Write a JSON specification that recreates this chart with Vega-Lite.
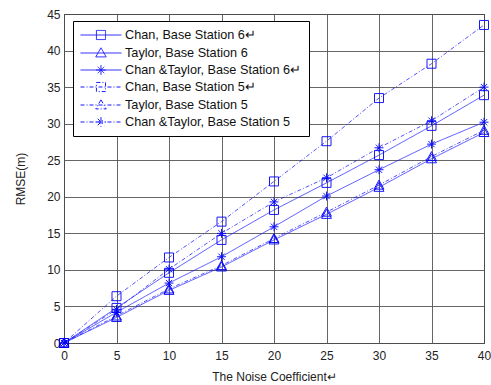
{
  "$schema": "https://vega.github.io/schema/vega-lite/v6.json",
  "width": 420,
  "height": 329,
  "padding": {"left": 14, "top": 8, "right": 8, "bottom": 4},
  "background": "white",
  "config": {
    "font": "Liberation Sans",
    "view": {"stroke": "#000000", "strokeWidth": 1},
    "axis": {"domain": false, "ticks": false, "grid": true, "gridColor": "#555555", "gridWidth": 1, "gridOpacity": 0.9, "labelFont": "Liberation Sans", "labelFontSize": 12, "labelColor": "#222222", "titleFont": "Liberation Sans", "titleFontSize": 12, "titleFontWeight": "normal", "titleColor": "#222222"},
    "legend": {
      "title": null,
      "orient": "none",
      "legendX": 9,
      "legendY": 7,
      "padding": 7,
      "fillColor": "white",
      "strokeColor": "#000000",
      "symbolSize": 169,
      "symbolOffset": 0,
      "symbolStrokeWidth": 1,
      "symbolStrokeColor": "#0000ff",
      "symbolOpacity": 0.9,
      "labelOffset": 31,
      "labelFontSize": 12.7,
      "labelColor": "#111111",
      "labelLimit": 400,
      "rowPadding": 3
    }
  },
  "resolve": {"scale": {"shape": "independent", "strokeDash": "independent"}},
  "data": {"values": [
    {"series": "Chan, Base Station 6↵", "x": 0, "y": 0},
    {"series": "Chan, Base Station 6↵", "x": 5, "y": 4.8},
    {"series": "Chan, Base Station 6↵", "x": 10, "y": 9.6},
    {"series": "Chan, Base Station 6↵", "x": 15, "y": 14.1},
    {"series": "Chan, Base Station 6↵", "x": 20, "y": 18.2},
    {"series": "Chan, Base Station 6↵", "x": 25, "y": 21.9},
    {"series": "Chan, Base Station 6↵", "x": 30, "y": 25.7},
    {"series": "Chan, Base Station 6↵", "x": 35, "y": 29.7},
    {"series": "Chan, Base Station 6↵", "x": 40, "y": 33.9},
    {"series": "Taylor, Base Station 6", "x": 0, "y": 0},
    {"series": "Taylor, Base Station 6", "x": 5, "y": 3.5},
    {"series": "Taylor, Base Station 6", "x": 10, "y": 7.2},
    {"series": "Taylor, Base Station 6", "x": 15, "y": 10.4},
    {"series": "Taylor, Base Station 6", "x": 20, "y": 14.1},
    {"series": "Taylor, Base Station 6", "x": 25, "y": 17.6},
    {"series": "Taylor, Base Station 6", "x": 30, "y": 21.3},
    {"series": "Taylor, Base Station 6", "x": 35, "y": 25.2},
    {"series": "Taylor, Base Station 6", "x": 40, "y": 28.8},
    {"series": "Chan &Taylor, Base Station 6↵", "x": 0, "y": 0},
    {"series": "Chan &Taylor, Base Station 6↵", "x": 5, "y": 4.2},
    {"series": "Chan &Taylor, Base Station 6↵", "x": 10, "y": 8.2},
    {"series": "Chan &Taylor, Base Station 6↵", "x": 15, "y": 11.8},
    {"series": "Chan &Taylor, Base Station 6↵", "x": 20, "y": 15.9},
    {"series": "Chan &Taylor, Base Station 6↵", "x": 25, "y": 20.1},
    {"series": "Chan &Taylor, Base Station 6↵", "x": 30, "y": 23.7},
    {"series": "Chan &Taylor, Base Station 6↵", "x": 35, "y": 27.2},
    {"series": "Chan &Taylor, Base Station 6↵", "x": 40, "y": 30.2},
    {"series": "Chan, Base Station 5↵", "x": 0, "y": 0},
    {"series": "Chan, Base Station 5↵", "x": 5, "y": 6.4},
    {"series": "Chan, Base Station 5↵", "x": 10, "y": 11.7},
    {"series": "Chan, Base Station 5↵", "x": 15, "y": 16.6},
    {"series": "Chan, Base Station 5↵", "x": 20, "y": 22.1},
    {"series": "Chan, Base Station 5↵", "x": 25, "y": 27.6},
    {"series": "Chan, Base Station 5↵", "x": 30, "y": 33.5},
    {"series": "Chan, Base Station 5↵", "x": 35, "y": 38.2},
    {"series": "Chan, Base Station 5↵", "x": 40, "y": 43.5},
    {"series": "Taylor, Base Station 5", "x": 0, "y": 0},
    {"series": "Taylor, Base Station 5", "x": 5, "y": 3.7},
    {"series": "Taylor, Base Station 5", "x": 10, "y": 7.4},
    {"series": "Taylor, Base Station 5", "x": 15, "y": 10.6},
    {"series": "Taylor, Base Station 5", "x": 20, "y": 14.3},
    {"series": "Taylor, Base Station 5", "x": 25, "y": 17.9},
    {"series": "Taylor, Base Station 5", "x": 30, "y": 21.6},
    {"series": "Taylor, Base Station 5", "x": 35, "y": 25.5},
    {"series": "Taylor, Base Station 5", "x": 40, "y": 29.1},
    {"series": "Chan &Taylor, Base Station 5", "x": 0, "y": 0},
    {"series": "Chan &Taylor, Base Station 5", "x": 5, "y": 4.6},
    {"series": "Chan &Taylor, Base Station 5", "x": 10, "y": 10.1},
    {"series": "Chan &Taylor, Base Station 5", "x": 15, "y": 15.0},
    {"series": "Chan &Taylor, Base Station 5", "x": 20, "y": 19.3},
    {"series": "Chan &Taylor, Base Station 5", "x": 25, "y": 22.6},
    {"series": "Chan &Taylor, Base Station 5", "x": 30, "y": 26.7},
    {"series": "Chan &Taylor, Base Station 5", "x": 35, "y": 30.4},
    {"series": "Chan &Taylor, Base Station 5", "x": 40, "y": 35.0}
  ]},
  "encoding": {
    "x": {"field": "x", "type": "quantitative", "scale": {"domain": [0, 40], "nice": false},
      "axis": {"values": [0, 5, 10, 15, 20, 25, 30, 35, 40], "title": "The Noise Coefficient↵", "labelPadding": 7, "titlePadding": 10, "labelFlush": false}},
    "y": {"field": "y", "type": "quantitative", "scale": {"domain": [0, 45], "nice": false},
      "axis": {"values": [0, 5, 10, 15, 20, 25, 30, 35, 40, 45], "title": "RMSE(m)", "labelPadding": 4, "titlePadding": 19, "labelFlush": false}}
  },
  "layer": [
    {
      "mark": {"type": "line", "color": "#1a1aff", "strokeWidth": 1, "opacity": 0.75},
      "encoding": {
        "strokeDash": {"field": "series", "type": "nominal", "legend": null,
          "scale": {"domain": ["Chan, Base Station 6↵", "Taylor, Base Station 6", "Chan &Taylor, Base Station 6↵", "Chan, Base Station 5↵", "Taylor, Base Station 5", "Chan &Taylor, Base Station 5"],
            "range": [[1, 0], [1, 0], [1, 0], [4, 2, 1, 2], [4, 2, 1, 2], [4, 2, 1, 2]]}}
      }
    },
    {
      "mark": {"type": "point", "filled": false, "color": "#0000ff", "strokeWidth": 1, "size": 81, "opacity": 0.9},
      "encoding": {
        "shape": {"field": "series", "type": "nominal", "legend": null,
          "scale": {"domain": ["Chan, Base Station 6↵", "Taylor, Base Station 6", "Chan &Taylor, Base Station 6↵", "Chan, Base Station 5↵", "Taylor, Base Station 5", "Chan &Taylor, Base Station 5"],
            "range": ["M-1,-1H1V1H-1Z", "M0,-1.1L1.1,0.9H-1.1Z", "M0,-1V1M-1,0H1M-0.7,-0.7L0.7,0.7M-0.7,0.7L0.7,-0.7", "M-1,-1H1V1H-1Z", "M0,-1.1L1.1,0.9H-1.1Z", "M0,-1V1M-1,0H1M-0.7,-0.7L0.7,0.7M-0.7,0.7L0.7,-0.7"]}}
      }
    },
    {
      "mark": {"type": "point", "filled": false, "color": "#0000ff", "strokeWidth": 1, "opacity": 0},
      "encoding": {
        "shape": {"field": "series", "type": "nominal",
          "scale": {"domain": ["Chan, Base Station 6↵", "Taylor, Base Station 6", "Chan &Taylor, Base Station 6↵", "Chan, Base Station 5↵", "Taylor, Base Station 5", "Chan &Taylor, Base Station 5"],
            "range": ["M-1,0H5.3M1.45,-0.7H2.85V0.7H1.45Z", "M-1,0H5.3M2.15,-0.8L2.95,0.6H1.35Z", "M-1,0H5.3M2.15,-0.75V0.75M1.4,0H2.9M1.65,-0.5L2.65,0.5M1.65,0.5L2.65,-0.5", "M-1,0H5.3M1.45,-0.7H2.85V0.7H1.45Z", "M-1,0H5.3M2.15,-0.8L2.95,0.6H1.35Z", "M-1,0H5.3M2.15,-0.75V0.75M1.4,0H2.9M1.65,-0.5L2.65,0.5M1.65,0.5L2.65,-0.5"]}},
        "strokeDash": {"field": "series", "type": "nominal",
          "scale": {"domain": ["Chan, Base Station 6↵", "Taylor, Base Station 6", "Chan &Taylor, Base Station 6↵", "Chan, Base Station 5↵", "Taylor, Base Station 5", "Chan &Taylor, Base Station 5"],
            "range": [[1, 0], [1, 0], [1, 0], [4, 2, 1, 2], [4, 2, 1, 2], [4, 2, 1, 2]]}}
      }
    }
  ]
}
